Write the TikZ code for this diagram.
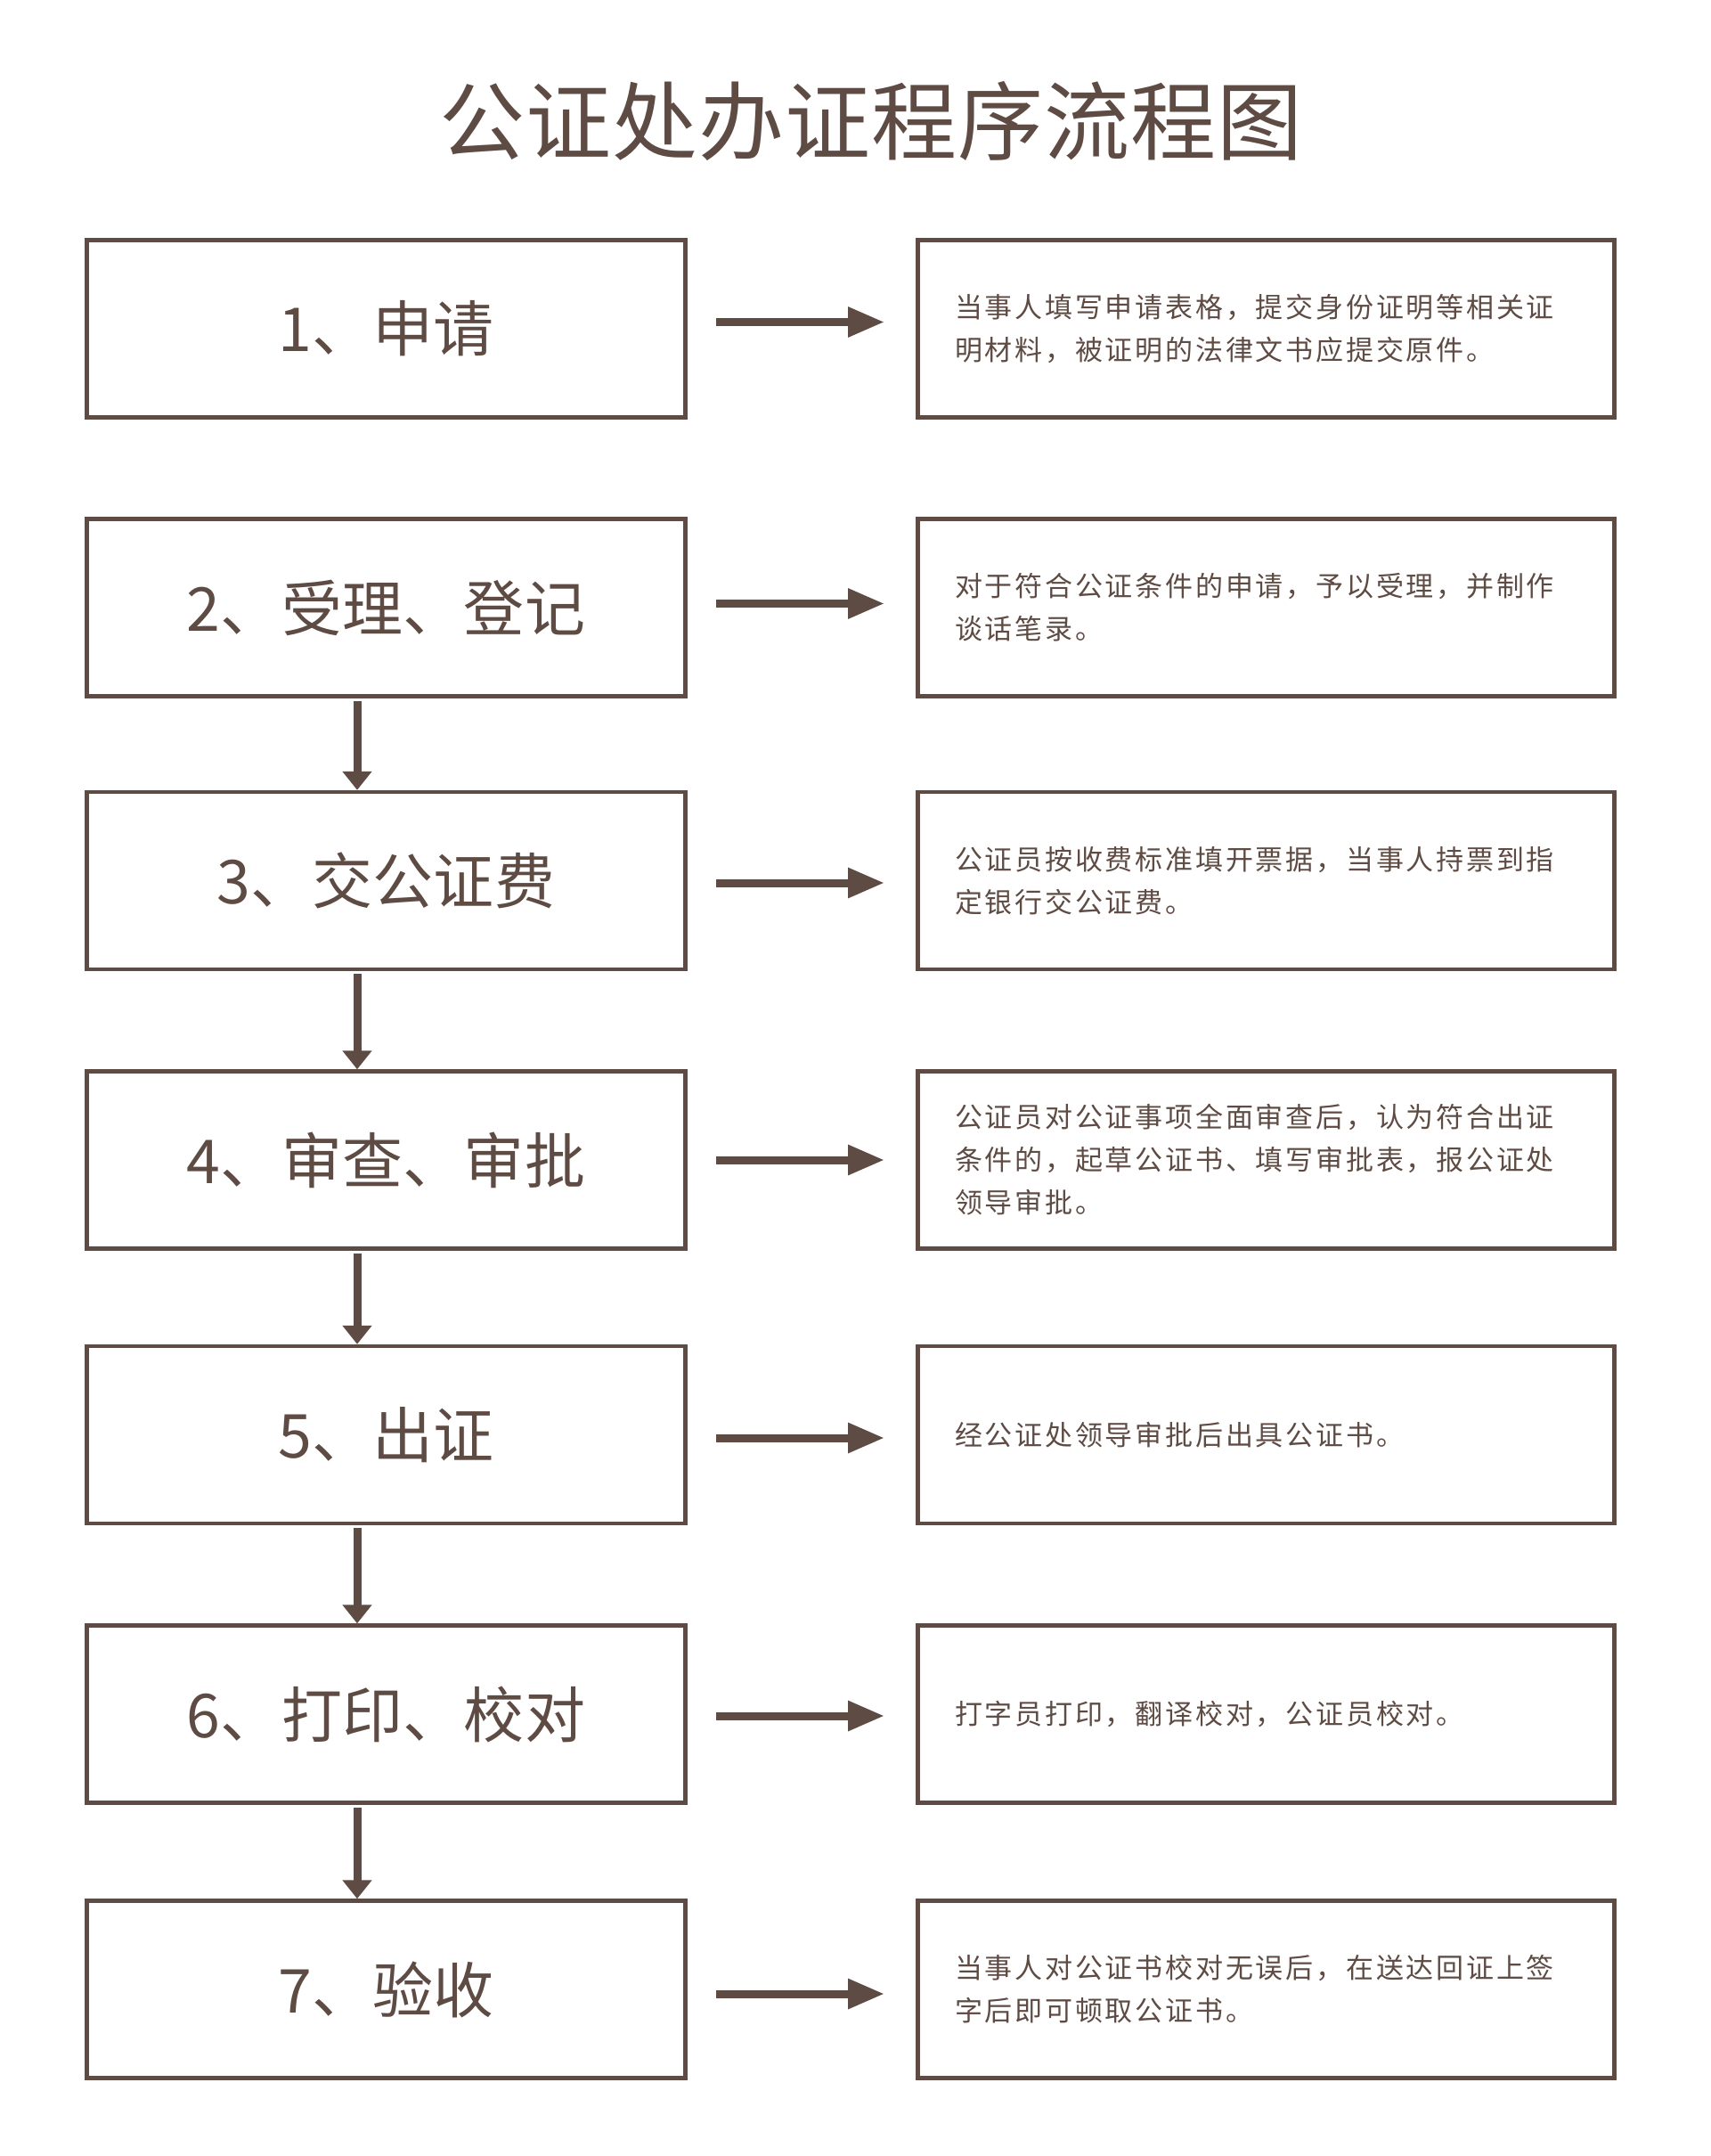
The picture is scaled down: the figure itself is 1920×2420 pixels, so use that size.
\documentclass[tikz,border=0pt]{standalone}
\usepackage{fontspec}
\usetikzlibrary{arrows.meta}
\newfontfamily\titlefont[LetterSpace=1]{Noto Sans CJK SC}
\newfontfamily\stepfont[LetterSpace=0.5]{Noto Sans CJK SC}
\newfontfamily\descfont[LetterSpace=9]{Noto Sans CJK SC}
\definecolor{brn}{RGB}{94,75,67}
\begin{document}
\begin{tikzpicture}[x=1pt,y=-1pt,
  stepbox/.style={draw=brn, line width=4.5pt, rectangle, minimum width=672pt, minimum height=199pt,
    inner sep=0pt, outer sep=0pt, text=brn, font=\stepfont\fontsize{68}{80}\selectfont, align=center},
  descbox/.style={draw=brn, line width=4.5pt, rectangle, minimum width=782pt, minimum height=199pt,
    text width=699pt, inner xsep=41.5pt, inner ysep=0pt, outer sep=0pt, text=brn,
    font=\descfont\fontsize{31}{48}\selectfont, align=left},
  harrow/.style={draw=brn, line width=9pt, -{Triangle[length=41pt,width=32pt]}},
  varrow/.style={draw=brn, line width=9pt, -{Triangle[length=21pt,width=32pt]}},
  titlestyle/.style={text=brn, inner sep=0pt, font=\titlefont\fontsize{96}{110}\selectfont}
]
\fill[white] (0,0) rectangle (1920,2420);
\useasboundingbox (0,0) rectangle (1920,2420);

\node[titlestyle] (title) at (978,136) {公证处办证程序流程图};

\node[stepbox] (s1) at (433.5,369) {1、申请};
\node[stepbox] (s2) at (433.5,682) {2、受理、登记};
\node[stepbox] (s3) at (433.5,988.5) {3、交公证费};
\node[stepbox] (s4) at (433.5,1302) {4、审查、审批};
\node[stepbox] (s5) at (433.5,1610.5) {5、出证};
\node[stepbox] (s6) at (433.5,1924) {6、打印、校对};
\node[stepbox] (s7) at (433.5,2233) {7、验收};

\node[descbox] (d1) at (1421.5,369) {当事人填写申请表格，提交身份证明等相关证\\明材料，被证明的法律文书应提交原件。};
\node[descbox] (d2) at (1421.5,682) {对于符合公证条件的申请，予以受理，并制作\\谈话笔录。};
\node[descbox] (d3) at (1421.5,988.5) {公证员按收费标准填开票据，当事人持票到指\\定银行交公证费。};
\node[descbox] (d4) at (1421.5,1302) {公证员对公证事项全面审查后，认为符合出证\\条件的，起草公证书、填写审批表，报公证处\\领导审批。};
\node[descbox] (d5) at (1421.5,1610.5) {经公证处领导审批后出具公证书。};
\node[descbox] (d6) at (1421.5,1924) {打字员打印，翻译校对，公证员校对。};
\node[descbox] (d7) at (1421.5,2233) {当事人对公证书校对无误后，在送达回证上签\\字后即可顿取公证书。};

\draw[harrow] ([xshift=34.5pt,yshift=7.5pt]s1.east) -- ([xshift=-37.5pt,yshift=7.5pt]d1.west);
\draw[harrow] ([xshift=34.5pt,yshift=4.5pt]s2.east) -- ([xshift=-37.5pt,yshift=4.5pt]d2.west);
\draw[harrow] ([xshift=34.5pt,yshift=-2.5pt]s3.east) -- ([xshift=-37.5pt,yshift=-2.5pt]d3.west);
\draw[harrow] ([xshift=34.5pt]s4.east) -- ([xshift=-37.5pt]d4.west);
\draw[harrow] ([xshift=34.5pt,yshift=-3.5pt]s5.east) -- ([xshift=-37.5pt,yshift=-3.5pt]d5.west);
\draw[harrow] ([xshift=34.5pt,yshift=-2pt]s6.east) -- ([xshift=-37.5pt,yshift=-2pt]d6.west);
\draw[harrow] ([xshift=34.5pt,yshift=-5pt]s7.east) -- ([xshift=-37.5pt,yshift=-5pt]d7.west);

\draw[varrow] ([xshift=-32.5pt,yshift=-5pt]s2.south) -- ([xshift=-32.5pt,yshift=2.25pt]s3.north);
\draw[varrow] ([xshift=-32.5pt,yshift=-5pt]s3.south) -- ([xshift=-32.5pt,yshift=2.25pt]s4.north);
\draw[varrow] ([xshift=-32.5pt,yshift=-5pt]s4.south) -- ([xshift=-32.5pt,yshift=2.25pt]s5.north);
\draw[varrow] ([xshift=-32.5pt,yshift=-5pt]s5.south) -- ([xshift=-32.5pt,yshift=2.25pt]s6.north);
\draw[varrow] ([xshift=-32.5pt,yshift=-5pt]s6.south) -- ([xshift=-32.5pt,yshift=2.25pt]s7.north);
\end{tikzpicture}
\end{document}
